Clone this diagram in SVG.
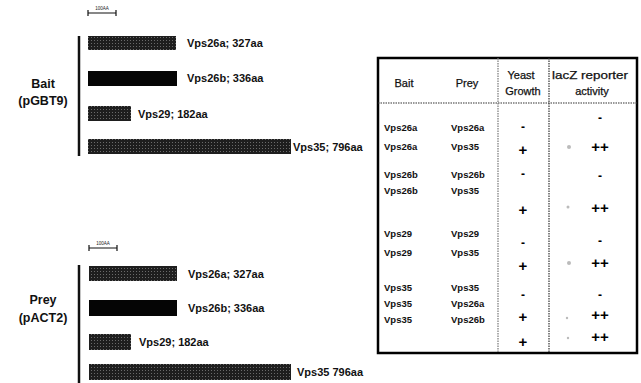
<svg xmlns="http://www.w3.org/2000/svg" width="641" height="383" viewBox="0 0 641 383">
<style>
.lbl{font-family:"Liberation Sans",Arial,sans-serif;font-weight:bold;font-size:11px;fill:#111}
.side{font-family:"Liberation Sans",Arial,sans-serif;font-weight:bold;font-size:12.5px;fill:#111;text-anchor:middle}
.hdr{font-family:"Liberation Sans",Arial,sans-serif;font-size:11px;fill:#111;text-anchor:middle;stroke:#111;stroke-width:0.25}
.cell{font-family:"Liberation Sans",Arial,sans-serif;font-weight:bold;font-size:9.5px;fill:#111}
.sym{font-family:"Liberation Sans",Arial,sans-serif;font-weight:bold;font-size:15px;fill:#000;text-anchor:middle}
.dash{font-family:"Liberation Sans",Arial,sans-serif;font-weight:bold;font-size:12px;fill:#000;text-anchor:middle}
.tiny{font-family:"Liberation Sans",Arial,sans-serif;font-size:4.5px;fill:#222;text-anchor:middle}
.bar{fill:url(#stip)}
.solid{fill:#050505}
.vline{stroke:#111;stroke-width:2.5}
.scale{stroke:#111;stroke-width:1.2;fill:none}
.div{stroke:#333;stroke-width:1.2;stroke-dasharray:1.5 1}
.faint{fill:#bbb}
</style>
<defs>
<pattern id="stip" width="3" height="3" patternUnits="userSpaceOnUse">
<rect width="3" height="3" fill="#1e1e1e"/>
<rect x="1" y="1" width="1" height="1" fill="#6a6a6a"/>
</pattern>
</defs>

<g id="bait-group">
<text class="side" x="43" y="88">Bait</text>
<text class="side" x="43" y="105">(pGBT9)</text>
<line class="vline" x1="79" y1="36" x2="79" y2="156"/>
<g id="bait-scale">
<path class="scale" d="M88 10 V16 M88 13 H116 M116 10 V16"/>
<text class="tiny" x="102" y="10">100AA</text>
</g>
</g>
<g id="bait-vps26a"><rect class="bar" x="88" y="36" width="88" height="14"/><text class="lbl" x="187" y="47">Vps26a; 327aa</text></g>
<g id="bait-vps26b"><rect class="solid" x="88" y="71" width="89" height="15"/><text class="lbl" x="187" y="82">Vps26b; 336aa</text></g>
<g id="bait-vps29"><rect class="bar" x="88" y="106" width="43" height="15"/><text class="lbl" x="138" y="118">Vps29; 182aa</text></g>
<g id="bait-vps35"><rect class="bar" x="88" y="139" width="203" height="15"/><text class="lbl" x="293" y="151">Vps35; 796aa</text></g>

<g id="prey-group">
<text class="side" x="43" y="304">Prey</text>
<text class="side" x="43" y="322">(pACT2)</text>
<line class="vline" x1="79" y1="265" x2="79" y2="383"/>
<g id="prey-scale">
<path class="scale" d="M89 245 V251 M89 248 H117 M117 245 V251"/>
<text class="tiny" x="103" y="245">100AA</text>
</g>
</g>
<g id="prey-vps26a"><rect class="bar" x="89" y="266" width="88" height="15"/><text class="lbl" x="188" y="278">Vps26a; 327aa</text></g>
<g id="prey-vps26b"><rect class="solid" x="89" y="300" width="88" height="16"/><text class="lbl" x="188" y="312">Vps26b; 336aa</text></g>
<g id="prey-vps29"><rect class="bar" x="89" y="334" width="42" height="16"/><text class="lbl" x="139" y="346">Vps29; 182aa</text></g>
<g id="prey-vps35"><rect class="bar" x="89" y="364" width="202" height="16"/><text class="lbl" x="297" y="376">Vps35 796aa</text></g>

<g id="table">
<rect x="378" y="58" width="259" height="295" fill="#fff" stroke="#000" stroke-width="2.5"/>
<line class="div" x1="378" y1="103" x2="637" y2="103"/>
<line class="div" x1="498" y1="58" x2="498" y2="353" style="stroke:#777"/>
<line class="div" x1="549" y1="58" x2="549" y2="353"/>
<text class="hdr" x="404" y="87">Bait</text>
<text class="hdr" x="467" y="87">Prey</text>
<text class="hdr" x="521" y="79">Yeast</text>
<text class="hdr" x="523" y="95">Growth</text>
<text class="hdr" x="590" y="79" textLength="76" lengthAdjust="spacingAndGlyphs">lacZ reporter</text>
<text class="hdr" x="592" y="95">activity</text>

<g id="row-bait">
<text class="cell" x="384" y="131">Vps26a</text>
<text class="cell" x="384" y="150">Vps26a</text>
<text class="cell" x="384" y="178">Vps26b</text>
<text class="cell" x="384" y="194">Vps26b</text>
<text class="cell" x="384" y="237">Vps29</text>
<text class="cell" x="384" y="256">Vps29</text>
<text class="cell" x="384" y="291">Vps35</text>
<text class="cell" x="384" y="307">Vps35</text>
<text class="cell" x="384" y="323">Vps35</text>
</g>
<g id="row-prey">
<text class="cell" x="451" y="131">Vps26a</text>
<text class="cell" x="451" y="150">Vps35</text>
<text class="cell" x="451" y="178">Vps26b</text>
<text class="cell" x="451" y="194">Vps35</text>
<text class="cell" x="451" y="237">Vps29</text>
<text class="cell" x="451" y="256">Vps35</text>
<text class="cell" x="451" y="291">Vps35</text>
<text class="cell" x="451" y="307">Vps26a</text>
<text class="cell" x="451" y="323">Vps26b</text>
</g>
<g id="yeast-col">
<text class="dash" x="523" y="131">-</text>
<text class="sym" x="523" y="155">+</text>
<text class="dash" x="523" y="178">-</text>
<text class="sym" x="523" y="215">+</text>
<text class="dash" x="523" y="247">-</text>
<text class="sym" x="523" y="271">+</text>
<text class="dash" x="523" y="299">-</text>
<text class="sym" x="523" y="322">+</text>
<text class="sym" x="523" y="347">+</text>
</g>
<g id="lacz-col">
<text class="dash" x="600" y="122">-</text>
<text class="sym" x="600" y="152">++</text>
<text class="dash" x="600" y="180">-</text>
<text class="sym" x="600" y="213">++</text>
<text class="dash" x="600" y="245">-</text>
<text class="sym" x="600" y="268">++</text>
<text class="dash" x="600" y="299">-</text>
<text class="sym" x="600" y="320">++</text>
<text class="sym" x="600" y="342">++</text>
</g>
<g id="faint-spots">
<circle class="faint" cx="569" cy="147" r="2"/>
<circle class="faint" cx="568" cy="207" r="1.5"/>
<circle class="faint" cx="569" cy="263" r="2"/>
<circle class="faint" cx="567" cy="318" r="1.2"/>
<circle class="faint" cx="568" cy="338" r="1.2"/>
</g>
</g>
</svg>
